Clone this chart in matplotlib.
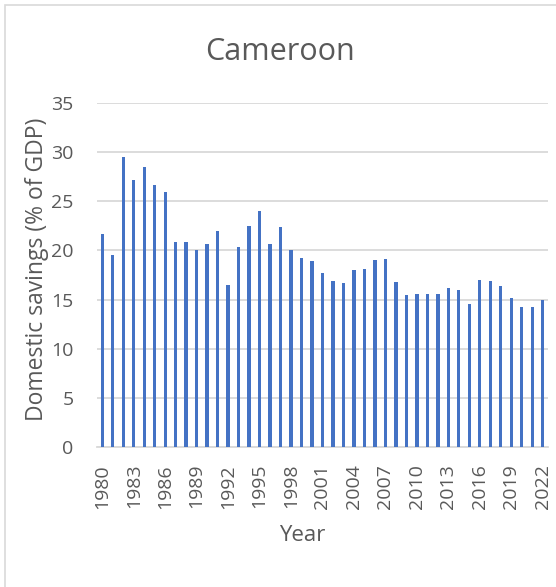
import matplotlib
matplotlib.use("Agg")
import matplotlib.pyplot as plt
from matplotlib.patches import Rectangle

# Datos
anios = list(range(1980, 2023))
ahorro = [21.7, 19.5, 29.5, 27.1, 28.5, 26.6, 25.9, 20.9, 20.9, 20.0,
          20.6, 22.0, 16.5, 20.3, 22.5, 24.0, 20.7, 22.4, 20.0, 19.2,
          18.9, 17.7, 16.9, 16.7, 18.0, 18.1, 19.0, 19.1, 16.8, 15.5,
          15.6, 15.6, 15.6, 16.2, 16.0, 14.6, 17.0, 16.9, 16.4, 15.2,
          14.3, 14.3, 15.0]
etiquetas_y = [0, 5, 10, 15, 20, 25, 30, 35]

texto = '#595959'
plt.rcParams['font.family'] = ['Open Sans', 'DejaVu Sans']

fig = plt.figure(figsize=(5.56, 5.87), dpi=100)
ax = fig.add_axes([0.1745, 0.238, 0.811, 0.587])

pos = list(range(len(anios)))
ax.bar(pos, ahorro, width=0.32, color='#4472C4', zorder=3)

ax.set_xlim(-0.5, len(anios) - 0.5)
ax.set_ylim(0, 35)
ax.set_yticks(etiquetas_y)
ax.set_xticks(pos[::3])
ax.set_xticklabels([str(a) for a in anios[::3]], rotation=90)

ax.grid(axis='y', color='#D9D9D9', linewidth=1.3, zorder=0)
for lado in ['top', 'right', 'left']:
    ax.spines[lado].set_visible(False)
ax.spines['bottom'].set_color('#D9D9D9')
ax.spines['bottom'].set_linewidth(1.3)
ax.tick_params(axis='both', length=0, labelsize=14, colors=texto)
ax.tick_params(axis='y', pad=17)
ax.tick_params(axis='x', pad=12)

ax.set_xlabel('Year', fontsize=16, color=texto)
ax.xaxis.set_label_coords(0.455, -0.225)
ax.set_ylabel('Domestic savings (% of GDP)', fontsize=16.5, color=texto)
ax.yaxis.set_label_coords(-0.106, 0.517)
fig.text(0.504, 0.911, 'Cameroon', ha='center', va='center', fontsize=22, color=texto)

# Marco del grafico
fig.patches.append(Rectangle((4.5 / 556, -0.1), 1.2, 1.1 - 4.5 / 587,
                             transform=fig.transFigure, fill=False,
                             edgecolor='#D9D9D9', linewidth=1.2))

fig.savefig('out.png', dpi=100)
